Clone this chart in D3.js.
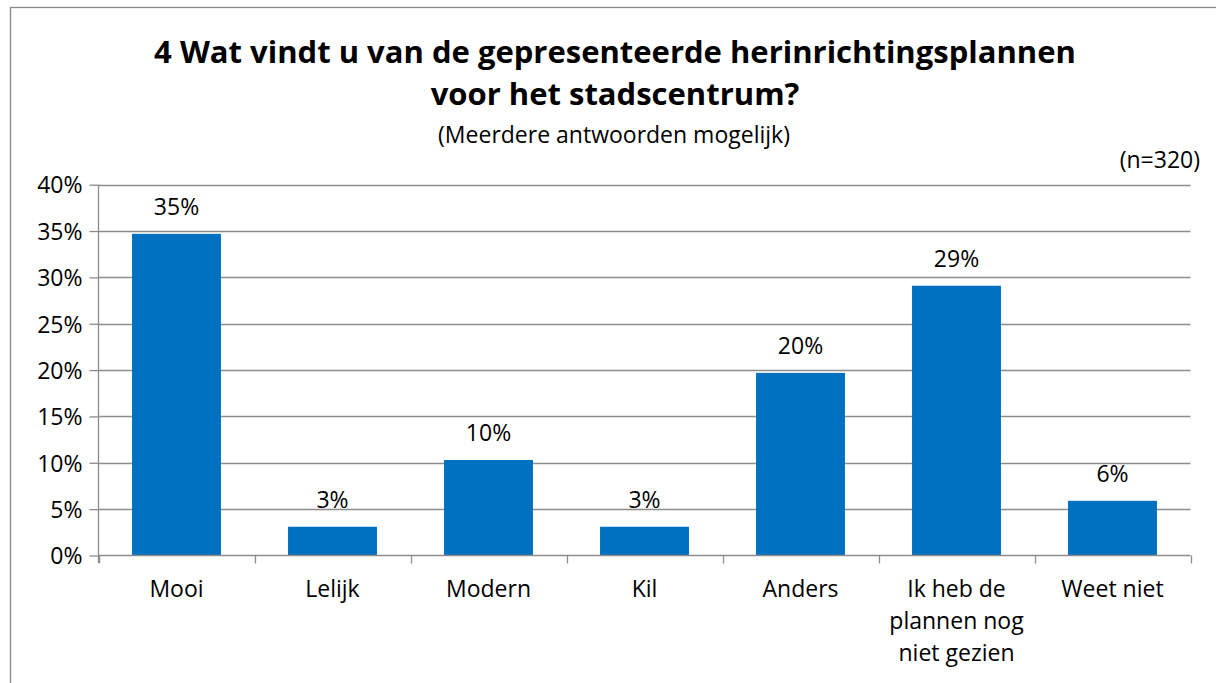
<!DOCTYPE html>
<html><head><meta charset="utf-8">
<script src="https://cdn.jsdelivr.net/npm/d3@7"></script>
<style>body{margin:0;background:#fff;}svg{display:block;font-family:"Open Sans","Noto Sans",sans-serif;}</style>
</head><body>
<svg id="c" width="1216" height="683"></svg>
<script>
const categories = ["Mooi","Lelijk","Modern","Kil","Anders","Ik heb de plannen nog niet gezien","Weet niet"];
const categoryLines = [["Mooi"],["Lelijk"],["Modern"],["Kil"],["Anders"],["Ik heb de","plannen nog","niet gezien"],["Weet niet"]];
const values = [34.7, 3.1, 10.3, 3.1, 19.7, 29.1, 5.9];
const valueLabels = ["35%","3%","10%","3%","20%","29%","6%"];
const yTicks = [0,5,10,15,20,25,30,35,40];
const titleLines = ["4 Wat vindt u van de gepresenteerde herinrichtingsplannen","voor het stadscentrum?"];
const subtitle = "(Meerdere antwoorden mogelijk)";
const nLabel = "(n=320)";

const FS = 23;
const svg = d3.select("#c");
svg.append("rect").attr("x",10.5).attr("y",7.5).attr("width",1220).attr("height",700)
  .attr("fill","#fff").attr("stroke","#888").attr("stroke-width",1.3);

const x = d3.scaleBand().domain(categories).range([98.5,1190.5]).paddingInner(0.43).paddingOuter(0.215);
const y = d3.scaleLinear().domain([0,40]).range([555.5,184.7]);

// gridlines
svg.append("g").selectAll("line").data(yTicks.filter(d=>d>0)).join("line")
  .attr("x1",98.5).attr("x2",1190.5).attr("y1",d=>Math.round(y(d))+0.5).attr("y2",d=>Math.round(y(d))+0.5)
  .attr("stroke","#8c8c8c").attr("stroke-width",1.3);

// y axis
const yAxis = d3.axisLeft(y).tickValues(yTicks).tickFormat(d=>d+"%").tickSize(9).tickPadding(7);
const yg = svg.append("g").attr("transform","translate(98.5,0)").call(yAxis);
yg.select(".domain").attr("stroke","#8c8c8c").attr("stroke-width",1.3).attr("d","M0,184.7V563");
yg.selectAll(".tick line").attr("stroke","#8c8c8c").attr("stroke-width",1.3);
yg.selectAll(".tick text").attr("font-size",FS).attr("fill","#000").attr("font-family","'Open Sans','Noto Sans',sans-serif").attr("dy","0.36em");

// bars
svg.append("g").selectAll("rect").data(values).join("rect")
  .attr("x",(d,i)=>x(categories[i])).attr("width",x.bandwidth())
  .attr("y",d=>y(d)).attr("height",d=>y(0)-y(d)).attr("fill","#0070c0");

// x axis
const xg = svg.append("g").attr("transform","translate(0,555.5)");
xg.append("line").attr("x1",98.5).attr("x2",1190.5).attr("stroke","#8c8c8c").attr("stroke-width",1.3);
const step = x.step();
const tickXs = d3.range(categories.length+1).map(i=>98.5+i*step);
xg.selectAll("line.t").data(tickXs).join("line").attr("class","t")
  .attr("x1",d=>Math.round(d)+0.5).attr("x2",d=>Math.round(d)+0.5).attr("y1",0).attr("y2",8)
  .attr("stroke","#8c8c8c").attr("stroke-width",1.3);

// category labels
categories.forEach((c,i)=>{
  const cx = x(c)+x.bandwidth()/2;
  const t = svg.append("text").attr("x",cx).attr("y",597).attr("text-anchor","middle").attr("font-size",FS).attr("fill","#000");
  categoryLines[i].forEach((ln,j)=>t.append("tspan").attr("x",cx).attr("dy",j?32:0).text(ln));
});

// value labels
svg.append("g").selectAll("text").data(values).join("text")
  .attr("x",(d,i)=>x(categories[i])+x.bandwidth()/2).attr("y",d=>y(d)-19)
  .attr("text-anchor","middle").attr("font-size",FS).attr("fill","#000")
  .text((d,i)=>valueLabels[i]);

// titles
svg.append("text").attr("x",615).attr("y",63).attr("text-anchor","middle").attr("font-size",31).attr("font-weight","bold").text(titleLines[0]);
svg.append("text").attr("x",615).attr("y",105).attr("text-anchor","middle").attr("font-size",31).attr("font-weight","bold").text(titleLines[1]);
svg.append("text").attr("x",614).attr("y",143).attr("text-anchor","middle").attr("font-size",FS).text(subtitle);
svg.append("text").attr("x",1200).attr("y",168).attr("text-anchor","end").attr("font-size",FS).text(nLabel);
</script>
</body></html>
